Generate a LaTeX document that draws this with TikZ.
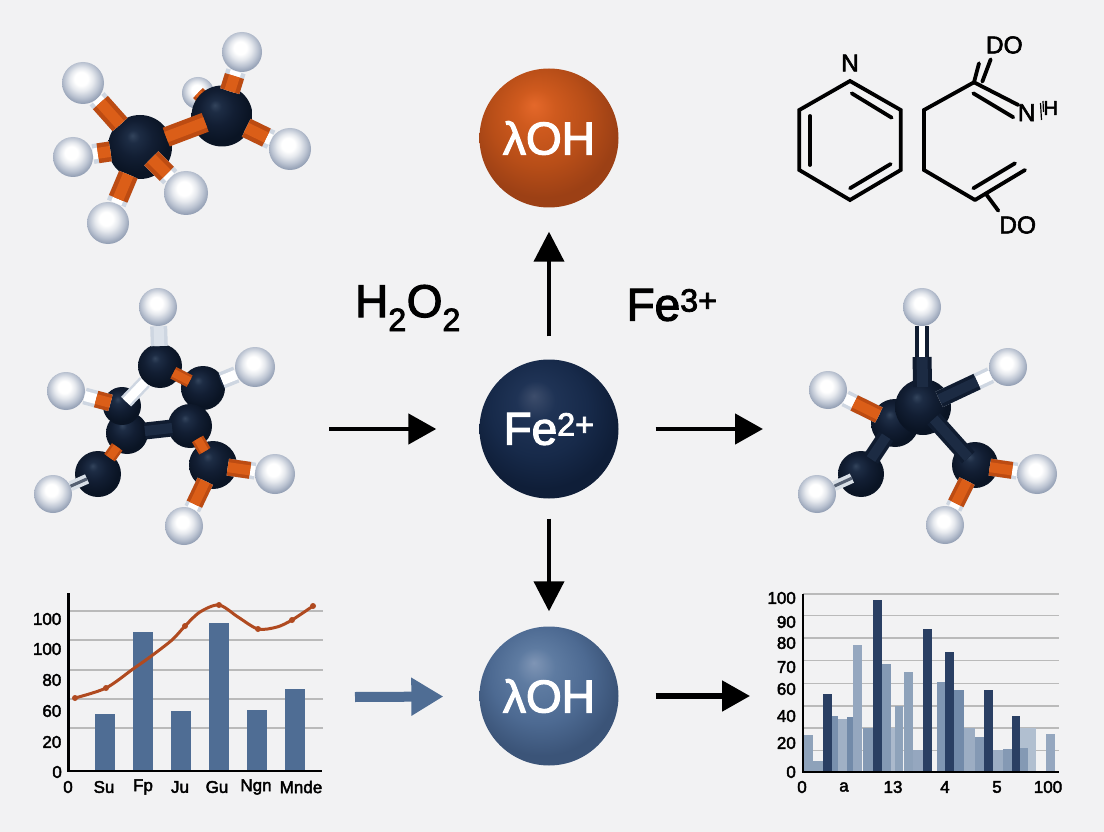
\documentclass[tikz,border=0pt]{standalone}
\usepackage{fontspec}
\setmainfont{Liberation Sans}[FakeBold=2.5]
\usetikzlibrary{arrows.meta,positioning}

\definecolor{pagegrey}{HTML}{F2F2F3}
\definecolor{navy}{HTML}{101C30}
\definecolor{navylight}{HTML}{1C2B43}
\definecolor{rust}{HTML}{BC4B12}
\definecolor{rustlight}{HTML}{DB5E18}
\definecolor{steel}{HTML}{4F6D94}
\definecolor{barline}{HTML}{B04A20}
\definecolor{navybar}{HTML}{2A3F63}
\definecolor{sfa}{HTML}{33445C}\definecolor{sfb}{HTML}{1D2C44}\definecolor{sfc}{HTML}{121E33}\definecolor{sfd}{HTML}{0A1424}
\definecolor{hya}{HTML}{E6E9EE}\definecolor{hyb}{HTML}{BCC4D2}\definecolor{hyc}{HTML}{939FB4}
\definecolor{nva}{HTML}{3D4D6B}\definecolor{nvb}{HTML}{1F3355}\definecolor{nvc}{HTML}{172A4A}\definecolor{nvd}{HTML}{0F1E38}
\definecolor{sta}{HTML}{7F95B5}\definecolor{stb}{HTML}{5E7BA1}\definecolor{stc}{HTML}{4D6A92}\definecolor{std}{HTML}{3B5478}
\definecolor{rsa}{HTML}{E4682A}\definecolor{rsb}{HTML}{CF5A1E}\definecolor{rsc}{HTML}{B84E18}\definecolor{rsd}{HTML}{9C4015}

\pgfdeclarelayer{background}
\pgfsetlayers{background,main}

% a node's rim lies 25bp from the middle of its shading
\pgfdeclareradialshading{carbonball}{\pgfpoint{-6bp}{9bp}}{color(0bp)=(sfa); color(5bp)=(sfb); color(14bp)=(sfc); color(25bp)=(sfd); color(50bp)=(sfd)}
\pgfdeclareradialshading{hydrogenball}{\pgfpoint{-2.5bp}{6bp}}{color(0bp)=(white); color(8bp)=(white); color(14bp)=(hya); color(21bp)=(hyb); color(27bp)=(hyc); color(50bp)=(hyc)}
\pgfdeclareradialshading{rustball}{\pgfpoint{-5.5bp}{12bp}}{color(0bp)=(rsa); color(7bp)=(rsb); color(17.5bp)=(rsc); color(27bp)=(rsd); color(50bp)=(rsd)}
\pgfdeclareradialshading{navyball}{\pgfpoint{-5.5bp}{12bp}}{color(0bp)=(nva); color(7bp)=(nvb); color(17.5bp)=(nvc); color(27bp)=(nvd); color(50bp)=(nvd)}
\pgfdeclareradialshading{steelball}{\pgfpoint{-5.5bp}{12bp}}{color(0bp)=(sta); color(7bp)=(stb); color(17.5bp)=(stc); color(27bp)=(std); color(50bp)=(std)}

% bond with a white collar next to the hydrogen: [colour]{from}{to}{start}
\newcommand{\hbond}[4][orangebond]{%
  \draw[whitebond, shorten <=#4] (#2) -- (#3);
  \draw[shorten >=5pt, #1, shorten <=#4] (#2) -- (#3);
}

\begin{document}
\begin{tikzpicture}[
    x=1pt, y=-1pt,
    catom/.style={circle, inner sep=0pt, shading=carbonball, minimum size=#1},
    hatom/.style={circle, inner sep=0pt, shading=hydrogenball, minimum size=#1},
    sphere/.style={circle, inner sep=0pt, minimum size=139pt, text=white, font=\fontsize{46}{50}\selectfont},
    bond/.style={line width=3.5pt, double distance=10pt},
    orangebond/.style={bond, draw=rust, double=rustlight},
    darkbond/.style={bond, draw=navy, double=navylight},
    whitebond/.style={bond, draw=white!72!steel, double=white},
    thinbond/.style={draw=white!78!steel, line width=3.5pt, double=navylight!75!white, double distance=3pt},
    arrow/.style={-{Triangle[length=30pt,width=30pt]}, line width=4pt},
    flatarrow/.style={-{Triangle[length=28pt,width=30pt]}, line width=4.7pt},
    formula/.style={font=\fontsize{46}{50}\selectfont},
    chem/.style={line width=3.8pt, line cap=round, line join=miter},
    chemlabel/.style={inner sep=0pt, font=\fontsize{24.5}{28}\selectfont},
    grid line/.style={draw=black!27, line width=1.2pt},
    axis line/.style={line width=2.6pt},
    ticklabel/.style={inner sep=0pt, font=\fontsize{17}{20}\selectfont},
]
    \begin{pgfonlayer}{background}
        \fill[pagegrey] (0,0) rectangle (1104,832);
    \end{pgfonlayer}

    % reaction centre
    \node[sphere, shading=rustball] (oh) at (549,138) {λOH};
    \node[sphere, shading=navyball] (fe) at (549,429) {Fe\textsuperscript{2+}};
    \node[sphere, shading=steelball] (ohlow) at (549,696) {λOH};
    \node[formula] (peroxide) at (408,308) {H\textsubscript{2}O\textsubscript{2}};
    \node[formula] (ferric) at (672,305) {Fe\textsuperscript{3+}};

    \coordinate (molin) at (329,429);
    \coordinate (molout) at (763,429);
    \coordinate (chartin) at (355,697);
    \coordinate (chartout) at (750,696);
    \draw[arrow, shorten <=23pt, shorten >=24pt] (fe) -- (oh);
    \draw[arrow, shorten <=20pt, shorten >=15pt] (fe) -- (ohlow);
    \draw[flatarrow, shorten >=43pt] (molin) -- (fe);
    \draw[flatarrow, shorten <=37pt] (fe) -- (molout);
    \draw[-{Triangle[length=32pt,width=36pt]}, line width=10pt, draw=steel, fill=steel, shorten >=36pt] (chartin) -- (ohlow);
    \draw[flatarrow, line width=5.2pt, shorten <=37pt] (ohlow) -- (chartout);

    % ethane, top left
    \begin{scope}[bond/.style={line width=4.5pt, double distance=11pt}]
        \begin{pgfonlayer}{background}
            \node[hatom=32pt] (ah7) at (198,93) {};
        \end{pgfonlayer}
        \node[hatom=42pt] (ah1) at (83,83) {};
        \node[hatom=40pt] (ah2) at (73,157) {};
        \node[hatom=42pt] (ah3) at (108,223) {};
        \node[hatom=40pt] (ah6) at (242,52) {};
        \node[hatom=42pt] (ah5) at (290,149) {};
        \node[catom=64pt] (ac1) at (140,147) {};
        \node[catom=61pt] (ac2) at (222,116) {};
        \node[hatom=44pt] (ah4) at (186,193) {};
        \begin{pgfonlayer}{background}
            \draw[orangebond, line width=3pt, double distance=8pt] (ah7.center) -- (ac2.center);
        \end{pgfonlayer}
        \draw[orangebond, shorten <=28pt, shorten >=18pt] (ac1.center) -- (ac2.center);
        \hbond{ac1.center}{ah1}{30pt}
        \hbond{ac1.center}{ah2}{30pt}
        \hbond{ac1.center}{ah3}{30pt}
        \hbond{ac1.center}{ah4}{16pt}
        \hbond{ac2.center}{ah5}{27pt}
        \hbond{ac2.center}{ah6}{26pt}
    \end{scope}

    % ring molecule, middle left
    \node[hatom=38pt] (bh1) at (158,307) {};
    \node[hatom=40pt] (bh2) at (255,367) {};
    \node[hatom=38pt] (bh3) at (66,391) {};
    \node[hatom=38pt] (bh4) at (53,494) {};
    \node[hatom=40pt] (bh5) at (275,474) {};
    \node[hatom=38pt] (bh6) at (184,526) {};
    \node[catom=44pt] (bc1) at (160,366) {};
    \node[catom=44pt] (bc2) at (203,388) {};
    \node[catom=44pt] (bc5) at (190,426) {};
    \node[catom=42pt] (bc4) at (127,433) {};
    \node[catom=38pt] (bc3) at (122,406) {};
    \node[catom=48pt] (bc6) at (213,465) {};
    \node[catom=46pt] (bc7) at (98,474) {};
    \draw[darkbond, shorten <=18pt, shorten >=18pt] (bc4.center) -- (bc5.center);
    \draw[orangebond, line width=2.5pt, double distance=8pt, shorten <=15pt, shorten >=15pt] (bc1.center) -- (bc2.center);
    \draw[orangebond, line width=2.5pt, double distance=8pt, shorten <=15pt, shorten >=16pt] (bc5.center) -- (bc6.center);
    \draw[orangebond, line width=2.5pt, double distance=8pt, shorten <=17pt, shorten >=20pt] (bc4.center) -- (bc7.center);
    \draw[whitebond, line width=2.5pt, double distance=9pt, shorten <=6pt] (bc3.center) -- (bc1);
    \draw[whitebond, double=white!80!steel, shorten <=20pt] (bc1.center) -- (bh1);
    \hbond[darkbond, shorten >=17pt]{bc2.center}{bh2}{20pt}
    \hbond[orangebond, shorten >=12pt]{bc3.center}{bh3}{12pt}
    \draw[thinbond, shorten <=12pt] (bc7.center) -- (bh4);
    \hbond{bc6.center}{bh5}{15pt}
    \hbond{bc6.center}{bh6}{18pt}

    % star molecule, middle right
    \coordinate (ctop) at (922,357);
    \node[hatom=38pt] (ch1) at (922,307) {};
    \node[hatom=38pt] (ch2) at (1008,367) {};
    \node[hatom=38pt] (ch3) at (828,390) {};
    \node[hatom=38pt] (ch4) at (817,494) {};
    \node[hatom=40pt] (ch5) at (1037,474) {};
    \node[hatom=38pt] (ch6) at (945,525) {};
    \node[catom=46pt] (cc4) at (861,474) {};
    \node[catom=46pt] (cc5) at (975,465) {};
    \node[catom=48pt] (cc2) at (895,423) {};
    \node[catom=56pt] (cc1) at (923,407) {};
    \draw[darkbond, line width=4pt, double distance=11pt, shorten <=20pt] (cc1.center) -- (ctop);
    \draw[draw=navy, line width=4pt, double=white, double distance=6pt] (ctop) -- (ch1);
    \hbond[darkbond, shorten >=15pt]{cc1.center}{ch2}{18pt}
    \hbond[orangebond, shorten >=10pt]{cc2.center}{ch3}{18pt}
    \draw[darkbond, shorten <=16pt, shorten >=18pt] (cc2.center) -- (cc4.center);
    \draw[darkbond, shorten <=16pt, shorten >=10pt] (cc1.center) -- (cc5.center);
    \hbond{cc5.center}{ch5}{15pt}
    \hbond{cc5.center}{ch6}{18pt}
    \draw[thinbond, shorten <=10pt] (cc4.center) -- (ch4);

    % skeletal formula, top right
    \draw[chem] (850,81) -- (900.7,110) -- (900.7,170) -- (850,200) -- (799.3,170) -- (799.3,110) -- cycle;
    \draw[chem] (851.7,93.3) -- (891.7,117.7);
    \draw[chem] (890.7,164) -- (850,188.3);
    \draw[chem] (810,116) -- (810,165);
    \draw[chem] (974,82.3) -- (924,110) -- (924,170) -- (975,200);
    \draw[chem] (974,82.3) -- (979,63.3);
    \draw[chem] (982.3,81.7) -- (990.7,59.3);
    \draw[chem] (974,82.3) -- (1018.3,105);
    \draw[chem] (973.3,93.3) -- (1013.3,117.3);
    \draw[chem] (975,200) -- (1025,170);
    \draw[chem] (973.3,188.3) -- (1015,163.3);
    \draw[chem] (986.7,195) -- (998.3,210.7);
    \node[chemlabel] (pyn) at (850,63) {N};
    \node[chemlabel] (doup) at (1004.3,45) {DO};
    \node[chemlabel] (nh) at (1026.7,112.7) {N};
    \node[chemlabel, font=\fontsize{20}{24}\selectfont] (nhh) at (1050.7,108) {H};
    \draw[line width=1.2pt] (1040.5,103) -- (1041.5,120);
    \draw[line width=1.2pt] (1043,101) -- (1043.5,112);
    \node[chemlabel] (dodown) at (1017.7,225) {DO};

    % bar chart with curve, bottom left
    \foreach \y in {611,640,670,699,728}
        \draw[grid line] (69,\y) -- (323,\y);
    \foreach \x/\top in {95.3/714.3, 133.3/632.3, 171.3/711, 209.3/623.3, 247.3/710, 285.3/688.7}
        \fill[steel] (\x,771) rectangle (\x+20,\top);
    \draw[barline, line width=3pt, smooth, tension=0.5] plot coordinates {(75,698) (106,688) (133,669) (150,657) (172,640) (185,626) (200,612) (219,605) (238,617) (258,629) (277,627) (292,620) (313,606)};
    \foreach \x/\y in {75/698, 106/688, 185/626, 219/605, 258/629, 292/620, 313/606}
        \fill[barline] (\x,\y) circle (3pt);
    \draw[axis line] (68.7,593) -- (68.7,771) -- (322,771);
    \foreach \y/\lab in {619/100, 649/100, 680/80, 711/60, 742/20}
        \node[ticklabel, anchor=east] (lefty\y) at (61.5,\y) {\lab};
    \node[ticklabel, anchor=east] (leftzero) at (62,772) {0};
    \foreach \x/\lab in {68/0, 104/Su, 143/Fp, 180/Ju, 217/Gu, 256/Ngn, 301/Mnde}
        \node[ticklabel] (leftx\x) at (\x,787) {\lab};

    % bar chart, bottom right
    \foreach \y in {594,615.7,638,660.7,683.3,706,728,750.3}
        \draw[grid line] (803,\y) -- (1059,\y);
    \foreach \a/\b/\top/\tone in {804/812.7/735/64, 813.3/822.7/761/64, 832/838/716/76, 838/846.7/719/54, 846.7/853.3/717/80, 853.3/862/645/60, 862.7/873/728/70, 882/890.7/664.3/70, 890.7/894.7/728/48, 894.7/903.3/706/64, 904/912.7/671.7/64, 912.7/923/750/60, 937.3/945/681.7/72, 954/963.7/690/80, 963.7/975.3/728/56, 975.3/984.3/737/70, 993.3/1002.7/750.3/56, 1002.7/1011.7/749/70, 1020.3/1036/728/44, 1020.3/1027.7/747.7/70, 1046/1054.7/734/60}
        \fill[steel!\tone!white] (\a,772) rectangle (\b,\top);
    \foreach \a/\b/\top in {822.7/832/693.7, 873/882/600, 923/932/629, 945/954/652, 984.3/993.3/690, 1011.7/1020.3/715.7}
        \fill[navybar] (\a,772) rectangle (\b,\top);
    \draw[axis line] (803,594) -- (803,772) -- (1059,772);
    \foreach \y/\lab in {598/100, 622/90, 643/80, 667/70, 689/60, 716/40, 743/20}
        \node[ticklabel, anchor=east] (righty\y) at (796,\y) {\lab};
    \node[ticklabel, anchor=east] (rightzero) at (796,772) {0};
    \foreach \x/\lab in {802/0, 844/a, 893/13, 945/4, 997/5, 1048/100}
        \node[ticklabel] (rightx\x) at (\x,787) {\lab};
\end{tikzpicture}
\end{document}
